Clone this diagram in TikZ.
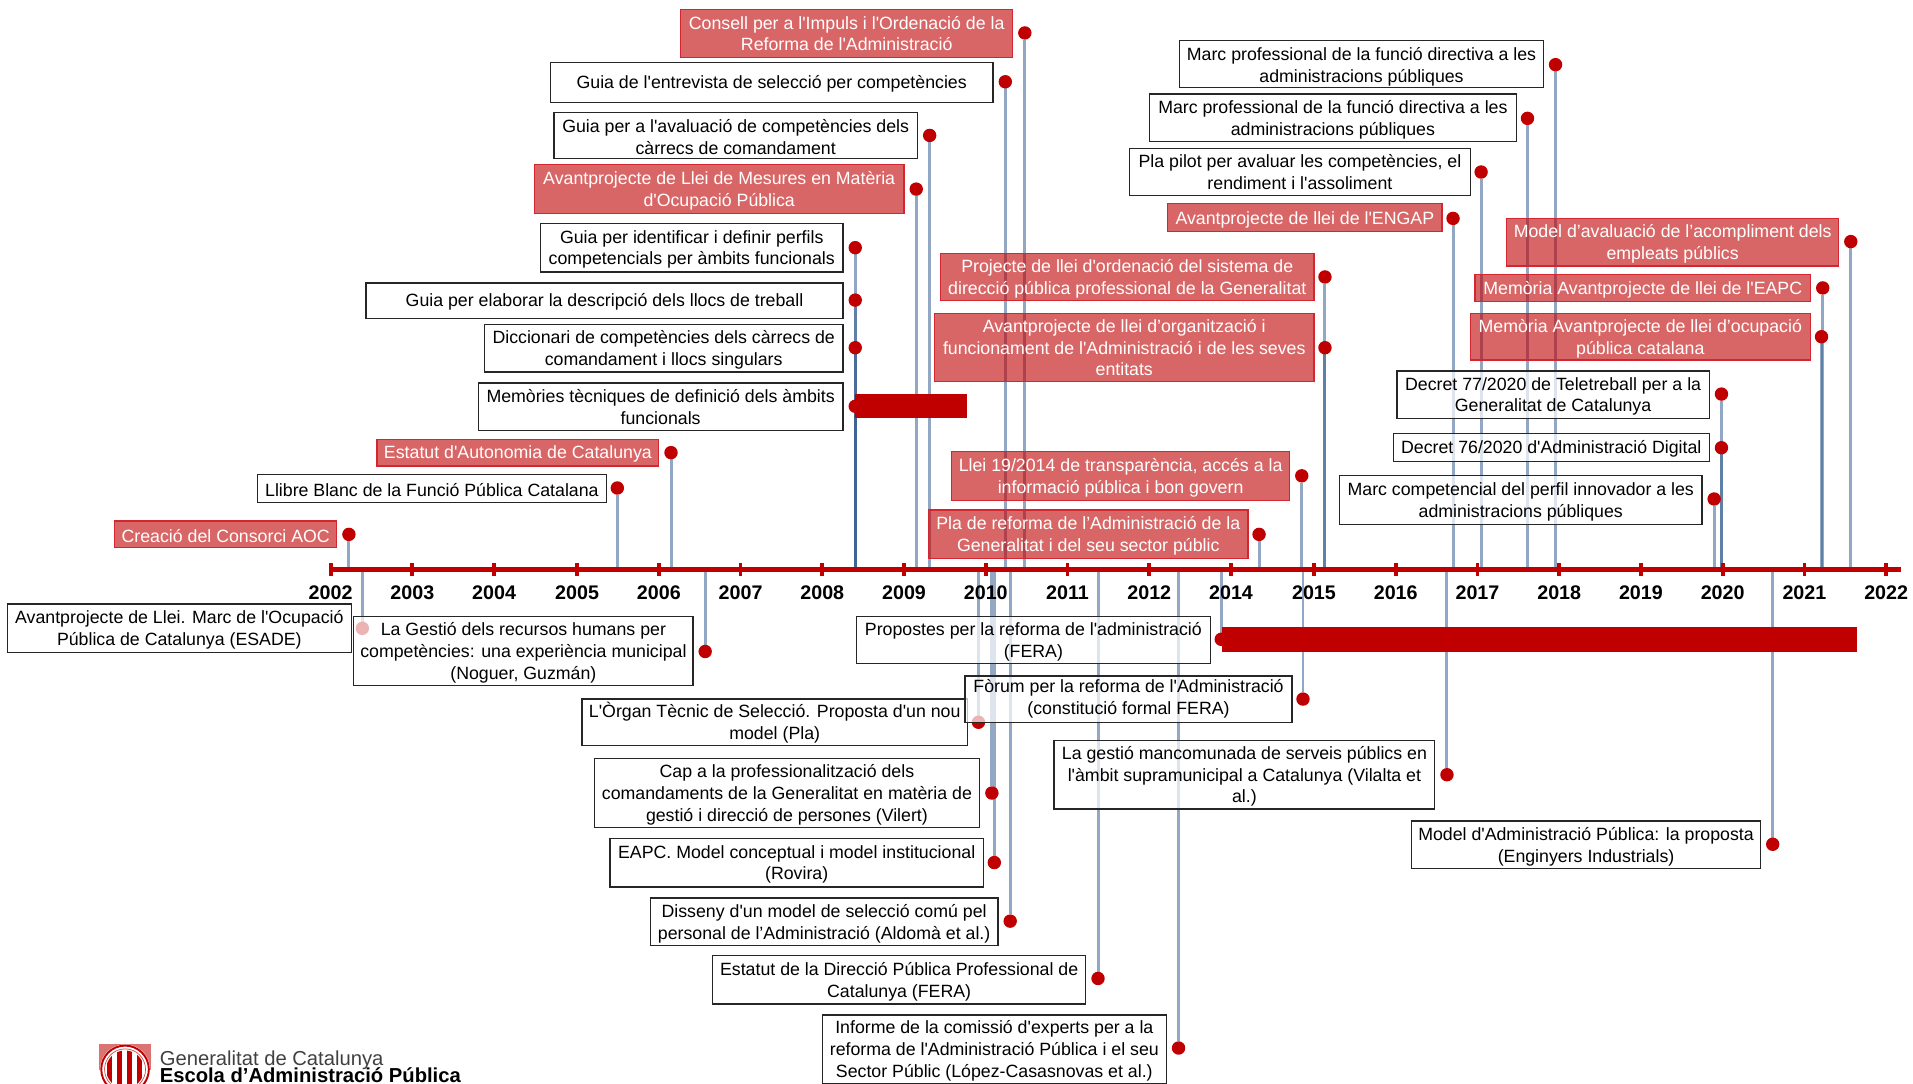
\documentclass[tikz,border=0pt]{standalone}
\usepackage{fontspec}
\usetikzlibrary{backgrounds}
\newfontfamily\arialfont{Liberation Sans}
\definecolor{my red}{HTML}{C00000}
\definecolor{my edge}{HTML}{D42630}
\definecolor{my stem}{HTML}{365F91}
\def\px{0.0244cm}
\def\ts{\rule{0pt}{9.4pt}}
\tikzset{
    every node/.style = {font=\arialfont\fontsize{10.1}{12.4}\selectfont, inner sep=0pt, outer sep=0pt, align=center},
    boxsize/.style 2 args = {minimum width=#1*\px, minimum height=#2*\px, execute at begin node=\rule{0pt}{9.2pt}},
    whitebox/.style 2 args = {boxsize={#1}{#2}, draw=black!85, line width=0.7pt, fill=white, fill opacity=0.7, text opacity=1},
    redbox/.style 2 args = {boxsize={#1}{#2}, draw=my edge, line width=0.7pt, fill=my red, fill opacity=0.6, text opacity=1, text=white},
    reddot/.style = {circle, fill=my red, minimum size=11*\px},
    period/.style = {fill=my red, minimum height=20*\px},
    stem/.style = {my stem, opacity=0.55, line width=1.7pt},
    yearlabel/.style = {font=\arialfont\bfseries\fontsize{11.2}{13}\selectfont},
}
\begin{document}
\begin{tikzpicture}[x=\px, y=-\px]
    \useasboundingbox (0, 0) rectangle (1568, 887.7);
    % timeline
    \coordinate (axisstart) at (271, 467);
    \coordinate (axisend) at (1558, 467);
    \draw [my red, line width=3pt] (axisstart) -- (axisend);
    \foreach \x/\yr in {271/2002, 338/2003, 405/2004, 473/2005, 540/2006, 607/2007, 674/2008, 741/2009, 808/2010, 875/2011, 942/2012, 1009/2014, 1077/2015, 1144/2016, 1211/2017, 1278/2018, 1345/2019, 1412/2020, 1479/2021, 1546/2022} {
        \draw [my red, line width=2.2pt] (\x, 461.5) -- (\x, 472.5);
        \node [yearlabel] (year\yr) at (\x, 486) {\yr};
    }
    % above the line, left
    \node [redbox={272}{39}] (consell) at (694, 27.5) {Consell per a l'Impuls i l'Ordenació de la\\Reforma de l'Administració};
    \node [reddot] (consell dot) at (840, 27) {};
    \node [whitebox={363}{33}] (entrevista) at (632.5, 67.5) {Guia de l'entrevista de selecció per competències};
    \node [reddot] (entrevista dot) at (824, 67) {};
    \node [whitebox={298}{38}] (avaluacio) at (603, 111) {\ts Guia per a l'avaluació de competències dels\\càrrecs de comandament};
    \node [reddot] (avaluacio dot) at (762, 111) {};
    \node [redbox={303}{40}] (mesures) at (589.5, 155) {\ts Avantprojecte de Llei de Mesures en Matèria\\d'Ocupació Pública};
    \node [reddot] (mesures dot) at (751, 155) {};
    \node [whitebox={248}{40}] (perfils) at (567, 203) {\ts Guia per identificar i definir perfils\\competencials per àmbits funcionals};
    \node [reddot] (perfils dot) at (701, 203) {};
    \node [whitebox={391}{29}] (llocs) at (495.5, 246.5) {Guia per elaborar la descripció dels llocs de treball};
    \node [reddot] (llocs dot) at (701, 246) {};
    \node [whitebox={294}{39}] (diccionari) at (544, 285.5) {\ts Diccionari de competències dels càrrecs de\\comandament i llocs singulars};
    \node [reddot] (diccionari dot) at (701, 285) {};
    \node [whitebox={299}{39}] (memories) at (541.5, 333.5) {Memòries tècniques de definició dels àmbits\\funcionals};
    \node [reddot] (memories dot) at (701, 333) {};
    \node [period, minimum width=92*\px] (memories bar) at (747, 333) {};
    \node [redbox={231}{22}] (estatut) at (424.5, 371) {Estatut d'Autonomia de Catalunya};
    \node [reddot] (estatut dot) at (550, 371) {};
    \node [whitebox={286}{23}] (llibre) at (354, 400.5) {Llibre Blanc de la Funció Pública Catalana};
    \node [reddot] (llibre dot) at (506, 400) {};
    \node [redbox={182}{22}] (aoc) at (185, 438) {Creació del Consorci AOC};
    \node [reddot] (aoc dot) at (286, 438) {};
    % above the line, middle and right
    \node [whitebox={298}{39}] (marca) at (1116, 52.5) {\rule{0pt}{11pt}Marc professional de la funció directiva a les\\administracions públiques};
    \node [reddot] (marca dot) at (1275, 53) {};
    \node [whitebox={301}{39}] (marcb) at (1092.5, 96.5) {\ts Marc professional de la funció directiva a les\\administracions públiques};
    \node [reddot] (marcb dot) at (1252, 97) {};
    \node [whitebox={279}{38}] (pilot) at (1065.5, 141) {Pla pilot per avaluar les competències, el\\rendiment i l'assoliment};
    \node [reddot] (pilot dot) at (1214, 141) {};
    \node [redbox={225}{23}] (engap) at (1069.5, 178.5) {Avantprojecte de llei de l'ENGAP};
    \node [reddot] (engap dot) at (1191, 179) {};
    \node [redbox={306}{38}] (ordenacio) at (924, 227) {\ts Projecte de llei d'ordenació del sistema de\\direcció pública professional de la Generalitat};
    \node [reddot] (ordenacio dot) at (1086, 227) {};
    \node [redbox={311}{56}] (organitzacio) at (921.5, 285) {Avantprojecte de llei d’organització i\\funcionament de l'Administració i de les seves\\entitats};
    \node [reddot] (organitzacio dot) at (1086, 285) {};
    \node [redbox={277}{40}] (transparencia) at (918.5, 390) {\ts Llei 19/2014 de transparència, accés a la\\informació pública i bon govern};
    \node [reddot] (transparencia dot) at (1067, 390) {};
    \node [redbox={262}{40}] (reforma) at (892, 438) {\ts Pla de reforma de l’Administració de la\\Generalitat i del seu sector públic};
    \node [reddot] (reforma dot) at (1032, 438) {};
    \node [redbox={272}{39}] (acompliment) at (1371, 198.5) {\ts Model d’avaluació de l’acompliment dels\\empleats públics};
    \node [reddot] (acompliment dot) at (1517, 198) {};
    \node [redbox={275}{22}] (eapc) at (1346.5, 236) {Memòria Avantprojecte de llei de l'EAPC};
    \node [reddot] (eapc dot) at (1494, 236) {};
    \node [redbox={279}{38}] (ocupacio) at (1344.5, 276) {\ts Memòria Avantprojecte de llei d’ocupació\\pública catalana};
    \node [reddot] (ocupacio dot) at (1493, 276) {};
    \node [whitebox={256}{39}] (teletreball) at (1273, 323.5) {\ts Decret 77/2020 de Teletreball per a la\\Generalitat de Catalunya};
    \node [reddot] (teletreball dot) at (1411, 323) {};
    \node [whitebox={259}{23}] (digital) at (1271.5, 366.5) {Decret 76/2020 d'Administració Digital};
    \node [reddot] (digital dot) at (1411, 367) {};
    \node [whitebox={297}{40}] (innovador) at (1246.5, 410) {\ts Marc competencial del perfil innovador a les\\administracions públiques};
    \node [reddot] (innovador dot) at (1405, 409) {};
    % below the line
    \node [whitebox={282}{40}] (esade) at (147, 515) {\ts Avantprojecte de Llei. Marc de l'Ocupació\\Pública de Catalunya (ESADE)};
    \node [reddot] (esade dot) at (297, 515) {};
    \node [whitebox={278}{57}] (noguer) at (429, 533.5) {\ts La Gestió dels recursos humans per\\competències: una experiència municipal\\(Noguer, Guzmán)};
    \node [reddot] (noguer dot) at (578, 534) {};
    \node [whitebox={316}{38}] (organ) at (635, 592) {L'Òrgan Tècnic de Selecció. Proposta d'un nou\\model (Pla)};
    \node [reddot] (organ dot) at (802, 592) {};
    \node [whitebox={290}{39}] (propostes) at (847, 524.5) {\ts Propostes per la reforma de l'administració\\(FERA)};
    \node [reddot] (propostes dot) at (1001, 524) {};
    \node [period, minimum width=520*\px] (propostes bar) at (1262, 524) {};
    \node [whitebox={268}{38}] (forum) at (925, 573) {Fòrum per la reforma de l'Administració\\(constitució formal FERA)};
    \node [reddot] (forum dot) at (1068, 573) {};
    \node [whitebox={316}{56}] (vilert) at (645, 650) {\ts Cap a la professionalització dels\\comandaments de la Generalitat en matèria de\\gestió i direcció de persones (Vilert)};
    \node [reddot] (vilert dot) at (813, 650) {};
    \node [whitebox={306}{40}] (rovira) at (653, 707) {\ts EAPC. Model conceptual i model institucional\\(Rovira)};
    \node [reddot] (rovira dot) at (815, 707) {};
    \node [whitebox={285}{39}] (aldoma) at (675.5, 755.5) {\ts Disseny d'un model de selecció comú pel\\personal de l’Administració (Aldomà et al.)};
    \node [reddot] (aldoma dot) at (828, 755) {};
    \node [whitebox={306}{40}] (direccio) at (737, 803) {\ts Estatut de la Direcció Pública Professional de\\Catalunya (FERA)};
    \node [reddot] (direccio dot) at (900, 802) {};
    \node [whitebox={282}{56}] (experts) at (815, 860) {\ts Informe de la comissió d'experts per a la\\reforma de l'Administració Pública i el seu\\Sector Públic (López-Casasnovas et al.)};
    \node [reddot] (experts dot) at (966, 859) {};
    \node [whitebox={312}{56}] (vilalta) at (1020, 635) {\ts La gestió mancomunada de serveis públics en\\l'àmbit supramunicipal a Catalunya (Vilalta et\\al.)};
    \node [reddot] (vilalta dot) at (1186, 635) {};
    \node [whitebox={286}{39}] (enginyers) at (1300, 692.5) {\ts Model d'Administració Pública: la proposta\\(Enginyers Industrials)};
    \node [reddot] (enginyers dot) at (1453, 692) {};
    % stems behind everything
    \begin{scope}[on background layer]
        \foreach \n in {consell, entrevista, avaluacio, mesures, perfils, llocs, diccionari, memories, estatut, llibre, aoc, marca, marcb, pilot, engap, ordenacio, organitzacio, transparencia, reforma, acompliment, eapc, ocupacio, teletreball, digital, innovador, esade, noguer, organ, propostes, forum, vilert, rovira, aldoma, direccio, experts, vilalta, enginyers}
            \draw [stem] (\n\space dot) -- (\n\space dot |- axisstart);
    \end{scope}
    % logo
    \begin{scope}
        \clip (0, 850) rectangle (1568, 887.7);
        \fill [my red!55] (81.5, 856) rectangle (123.5, 877);
        \fill [white] (102.5, 876.5) circle (20.5);
        \draw [my red, line width=1.1pt] (102.5, 876.5) circle (19.5);
        \draw [my red!70, line width=0.4pt] (102.5, 876.5) circle (16.8);
        \begin{scope}
            \clip (102.5, 876.5) circle (15.5);
            \foreach \x in {90, 98.2, 106.4, 114.6} \fill [my red] (\x-1.9, 850) rectangle (\x+1.9, 900);
        \end{scope}
        \node [anchor=base west, text=black!75, font=\arialfont\fontsize{11.5}{14}\selectfont] (logotop) at (131, 873) {Generalitat de Catalunya};
        \node [anchor=base west, font=\arialfont\bfseries\fontsize{11.5}{14}\selectfont] (logoname) at (131, 887) {Escola d’Administració Pública};
    \end{scope}
\end{tikzpicture}
\end{document}
